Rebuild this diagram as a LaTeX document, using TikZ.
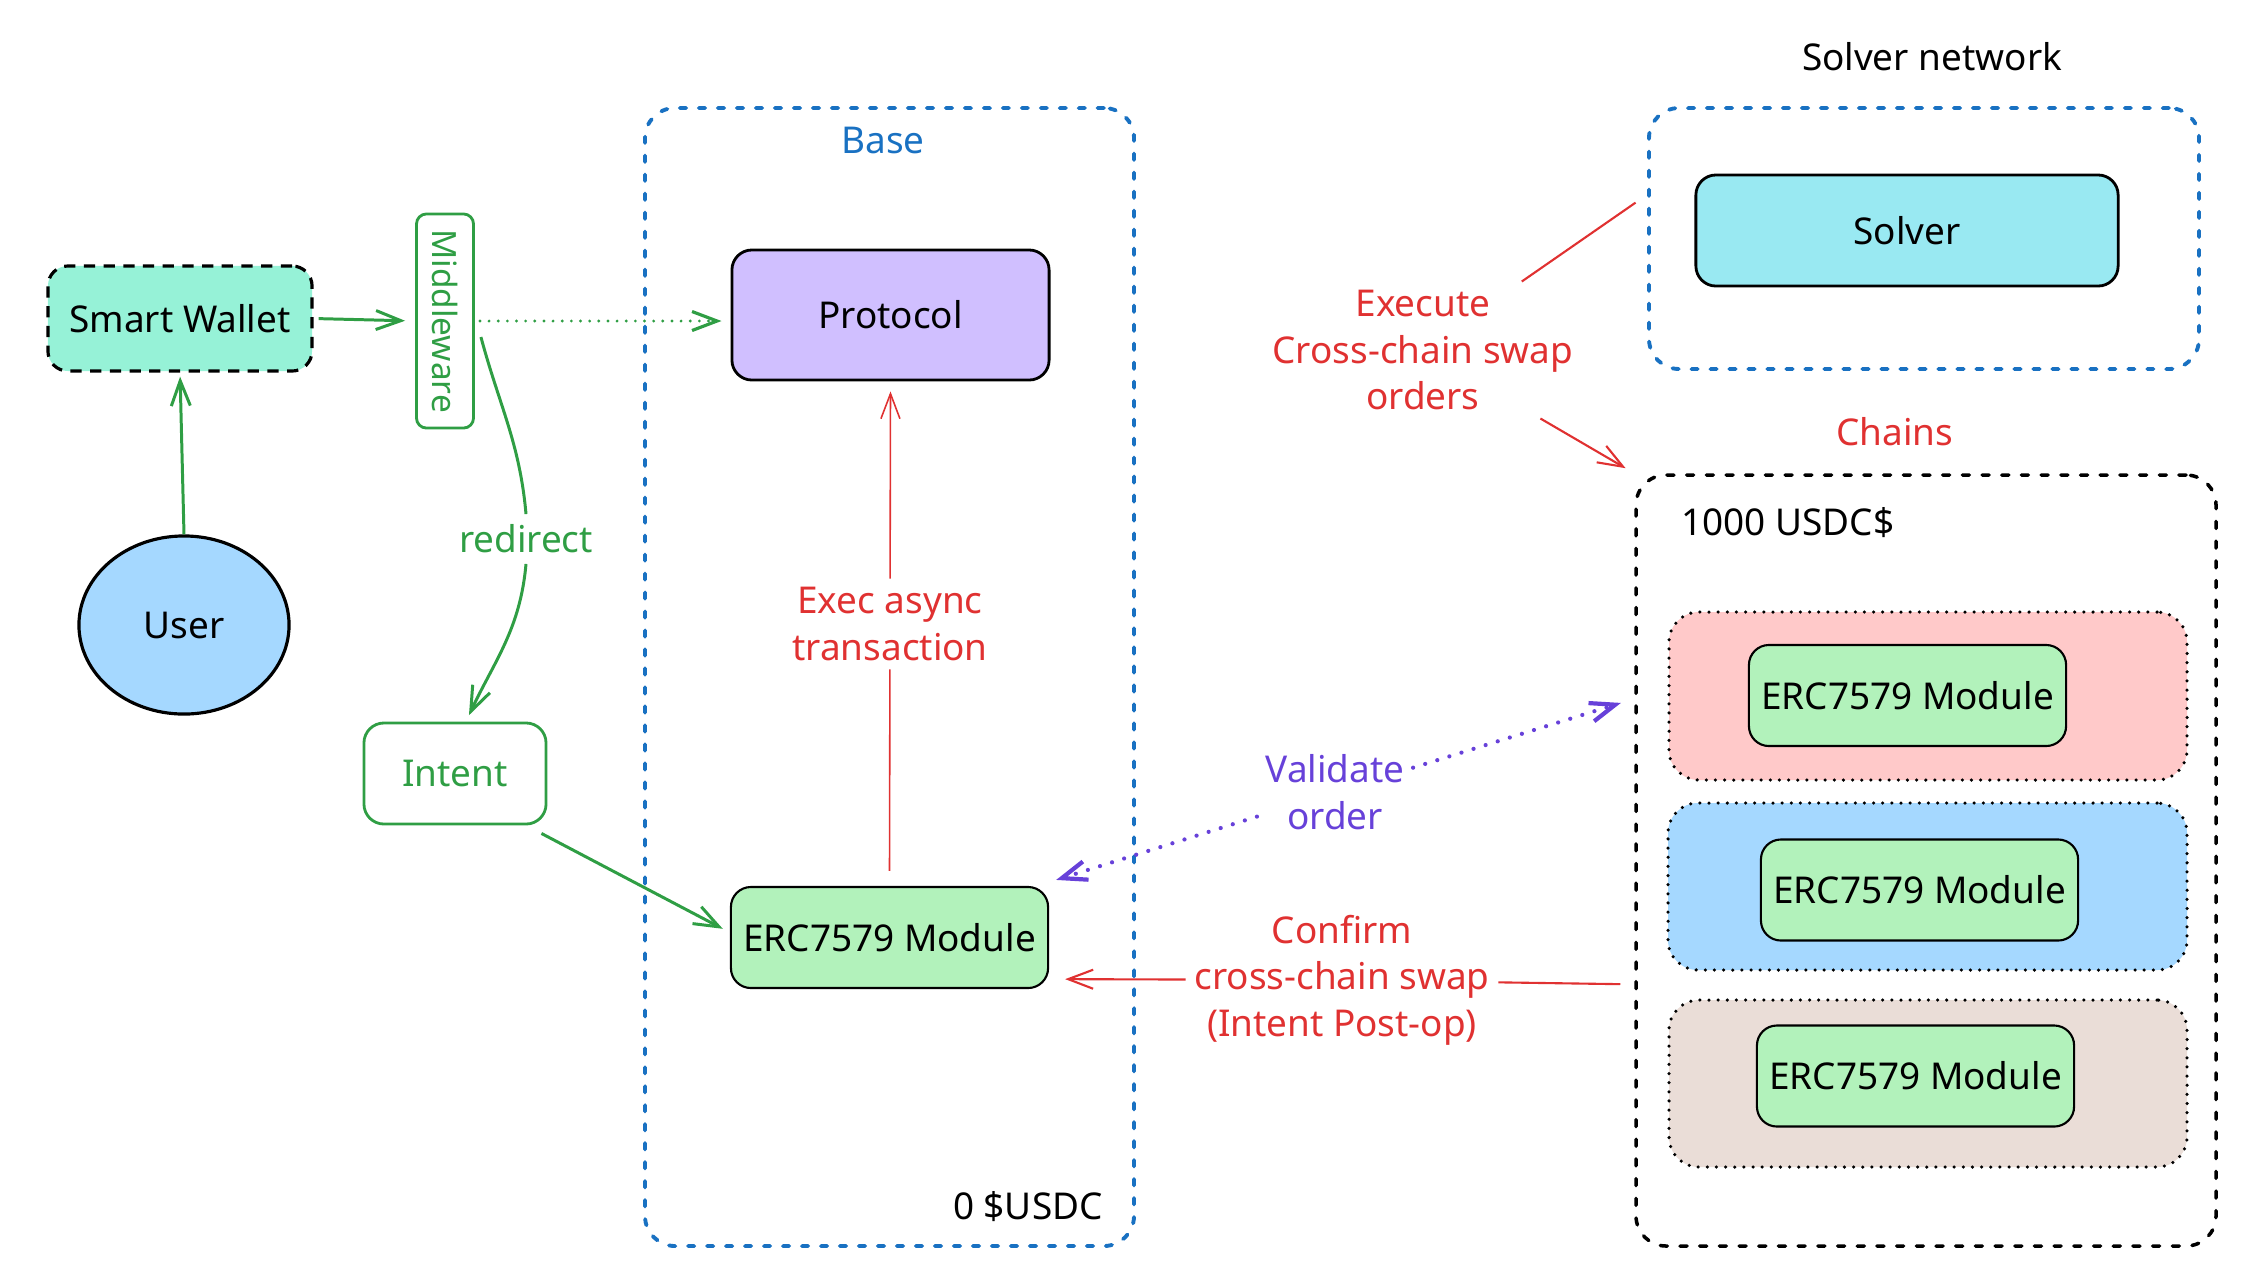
\documentclass[tikz,border=0pt]{standalone}
\usepackage{fontspec}
\setmainfont{Noto Sans}
\usepackage{graphicx}
\usetikzlibrary{arrows.meta,fit,shapes.geometric}
\definecolor{cblue}{HTML}{1971C2}
\definecolor{cgreen}{HTML}{2F9E44}
\definecolor{cred}{HTML}{E03131}
\definecolor{cpurple}{HTML}{6741D9}
\definecolor{fteal}{HTML}{96F2D7}
\definecolor{fviolet}{HTML}{D0BFFF}
\definecolor{fcyan}{HTML}{99E9F2}
\definecolor{fsky}{HTML}{A5D8FF}
\definecolor{fmint}{HTML}{B2F2BB}
\definecolor{fpink}{HTML}{FFC9C9}
\definecolor{fsand}{HTML}{EADDD7}
\newcommand{\fs}{\fontsize{10.5pt}{13.2pt}\selectfont}
\begin{document}
\begin{tikzpicture}[x=0.01cm,y=-0.01cm,
  every node/.style={font=\fs},
  >={Straight Barb[length=0.25cm,width=0.19cm]},
  box/.style={draw=black, line width=0.8pt, rounded corners=0.2cm, inner sep=0pt},
  module/.style={box, fill=fmint, line width=0.6pt, minimum width=3.17cm, minimum height=1.01cm},
  bluegroup/.style={draw=cblue, line width=1.1pt, dash pattern=on 1.8pt off 3.6pt, line cap=round, rounded corners=0.3cm, inner sep=0pt},
  blackgroup/.style={draw=black, line width=1.0pt, dash pattern=on 2pt off 3.6pt, line cap=round, rounded corners=0.3cm, inner sep=0pt},
  chainbox/.style={draw=black, line width=1.0pt, dash pattern=on 0pt off 2.6pt, line cap=round, rounded corners=0.3cm, inner sep=0pt},
  garrow/.style={draw=cgreen, line width=0.85pt},
  gdot/.style={draw=cgreen, line width=0.9pt, dash pattern=on 0pt off 2.6pt, line cap=round},
  pdot/.style={draw=cpurple, line width=1.2pt, dash pattern=on 0pt off 3.6pt, line cap=round},
  rthin/.style={draw=cred, line width=0.45pt},
  rline/.style={draw=cred, line width=0.6pt},
  lbl/.style={align=center, inner sep=0.08cm},
]
\useasboundingbox (0,0) rectangle (2258,1284);

% containers
\node[bluegroup, fit={(645,108) (1134,1246)}] (base) {};
\node[bluegroup, fit={(1649,108) (2199,369)}] (snet) {};
\node[blackgroup, fit={(1636,475) (2216,1246)}] (chains) {};

% left side
\node[box, fill=fteal, line width=0.9pt, dash pattern=on 3.2pt off 2.4pt, minimum width=2.64cm, minimum height=1.05cm] (sw) at (180,318.5) {Smart Wallet};
\node[draw=cgreen, line width=0.8pt, rounded corners=0.1cm, minimum width=0.57cm, minimum height=2.14cm, inner sep=0pt, text=cgreen, font=\fontsize{9.5pt}{11pt}\selectfont] (mw) at (445,321) {\rotatebox{-90}{Middleware}};
\node[ellipse, draw=black, fill=fsky, line width=0.9pt, minimum width=2.1cm, minimum height=1.78cm, inner sep=0pt] (user) at (184,625) {User};
\node[draw=cgreen, line width=0.8pt, rounded corners=0.2cm, inner sep=0pt, text=cgreen, minimum width=1.82cm, minimum height=1.01cm] (intent) at (455,773.5) {Intent};

% base chain
\node[text=cblue] (basel) at (883,140) {Base};
\node[box, fill=fviolet, minimum width=3.17cm, minimum height=1.3cm] (proto) at (890.5,315) {Protocol};
\node[module] (erc) at (889.5,937.5) {ERC7579 Module};
\node[anchor=east] (zero) at (1115,1207) {0 \$USDC};

% solver network
\node (snetl) at (1932,57) {Solver network};
\node[box, fill=fcyan, minimum width=4.22cm, minimum height=1.11cm] (solver) at (1907,230.5) {Solver};

% chains
\node[text=cred] (chainsl) at (1895,432) {Chains};
\node[anchor=west] (usdc) at (1669,523) {1000 USDC\$};
\node[chainbox, fill=fpink, fit={(1669,612) (2187,780)}] (c1) {};
\node[module] (m1) at (1907.5,695.5) {ERC7579 Module};
\node[chainbox, fill=fsky, fit={(1668,803) (2187,970)}] (c2) {};
\node[module] (m2) at (1919.5,890) {ERC7579 Module};
\node[chainbox, fill=fsand, fit={(1669,1000) (2187,1167)}] (c3) {};
\node[module] (m3) at (1915.5,1076) {ERC7579 Module};

% labels
\node[lbl, text=cgreen, inner sep=0.1cm] (redir) at (526,539) {redirect};
\node[lbl, text=cred] (elbl) at (890,624) {Exec async\\transaction};
\node[lbl, text=cred] (xlbl) at (1423,350) {Execute\\Cross-chain swap\\orders};
\node[lbl, text=cpurple] (vlbl) at (1335,792) {Validate\\order};
\node[lbl, text=cred] (clbl) at (1342,980) {Confirm\\cross-chain swap\\(Intent Post-op)};

% connectors
\draw[garrow, ->, shorten >=0.04cm] (user.north) -- (sw.south);
\draw[garrow, ->, shorten <=0.05cm, shorten >=0.1cm] (sw.east) -- (mw.west);
\draw[gdot, ->, shorten <=0.05cm, shorten >=0.09cm] (mw.east) -- (proto.west |- mw.east);
\draw[garrow] ([xshift=0.06cm,yshift=-0.16cm]mw.east) to[out=-75,in=95] (redir.north);
\draw[garrow, ->, shorten >=0.07cm] (redir.south) to[out=-95,in=65] ([xshift=0.11cm]intent.north);
\draw[garrow, ->, shorten >=0.08cm] ([xshift=-0.06cm,yshift=-0.08cm]intent.south east) -- ([yshift=0.05cm]erc.west);

\draw[rthin] ([yshift=0.15cm]erc.north) -- (elbl);
\draw[rthin, ->, shorten >=0.1cm] (elbl) -- (proto.south);

\draw[rline, shorten >=0.14cm] (xlbl) -- (snet.171);
\draw[rline, ->, shorten >=0.1cm] (xlbl) -- (chains.north west);

\draw[pdot, ->] (vlbl) -- ([shift={(0.07cm,0.06cm)}]erc.north east);
\draw[pdot, ->, shorten >=0.14cm] (vlbl) -- (chains.151);

\draw[rline, shorten <=0.14cm] (chains.203) -- (clbl);
\draw[rline, ->, shorten >=0.16cm] (clbl) -- ([yshift=0.1cm]erc.south east);
\end{tikzpicture}
\end{document}
